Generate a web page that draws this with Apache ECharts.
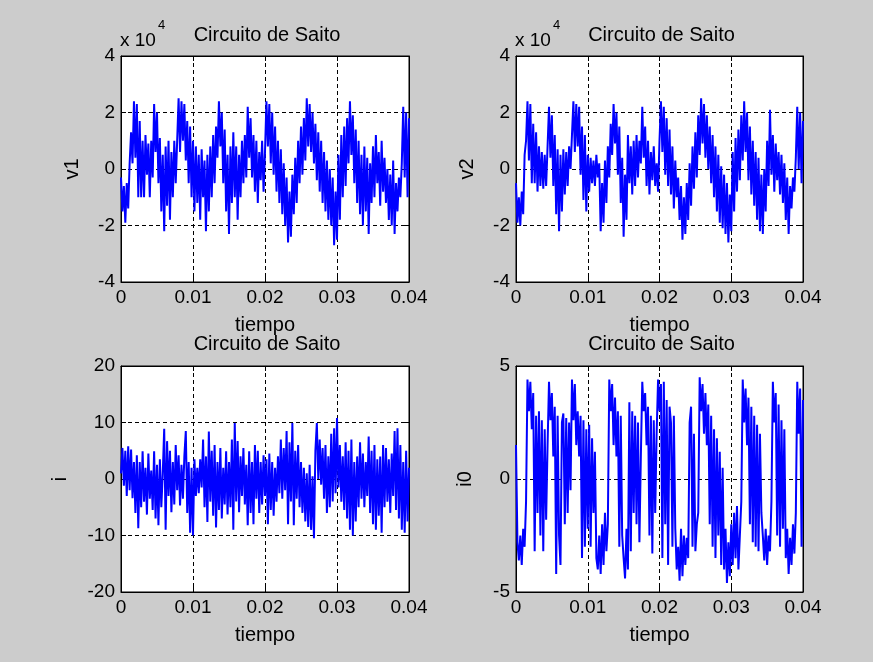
<!DOCTYPE html>
<html>
<head>
<meta charset="utf-8">
<script src="https://cdn.jsdelivr.net/npm/echarts@6/dist/echarts.min.js"></script>
<style>
html,body{margin:0;padding:0;background:#cccccc;}
#c{width:873px;height:662px;}
</style>
</head>
<body>
<div id="c"></div>
<script>
// time step of the samples (s); 201 samples from 0 to 0.04
const dt = 0.0002;
const xTicks = ['0', '0.01', '0.02', '0.03', '0.04'];
const titleText = 'Circuito de Saito';
const yNames = ['v1', 'v2', 'i', 'i0'];

// v1 in units of 1e4 (axis shows "x 10^4")
const v1 = [-0.3,-1.5,-0.6,-1.9,-0.5,-1.4,0.2,1.3,0.2,2.4,0.4,2.3,-1.0,1.7,-1.0,1.0,-1.0,1.2,-0.2,0.9,
-1.0,1.0,-0.3,2.3,0.6,2.0,-0.5,1.1,-1.5,0.5,-2.2,0.8,-1.3,1.0,-1.8,0.6,-1.0,1.0,-0.5,1.0,
2.5,0.6,2.4,1.0,2.3,0.3,1.7,-0.5,1.5,-1.0,1.0,-1.5,0.8,-1.2,0.5,-1.8,0.7,-1.0,0.3,-2.2,
0.5,-1.5,0.8,-1.0,1.2,-0.5,1.5,0.4,2.4,0.8,2.0,-0.5,1.4,-1.5,0.5,-2.3,0.8,-1.2,1.3,-1.0,
0.8,-1.8,0.5,-1.0,1.0,-0.5,1.2,-0.3,2.2,0.4,1.8,-0.3,1.2,-0.8,1.0,-1.2,0.6,-0.4,1.0,-0.8,
0.6,2.4,0.8,2.3,0.2,2.0,-0.2,1.5,-0.8,1.0,-1.2,0.7,-1.6,0.2,-2.0,-0.3,-2.6,-0.8,-2.4,-0.2,
-1.6,0.4,-1.2,1.0,-0.5,1.5,-0.2,1.8,0.3,2.5,0.8,2.3,0.6,2.0,0.2,1.6,-0.4,1.3,-0.8,1.0,
-1.2,0.6,-1.5,0.3,-1.8,0.0,-2.0,-0.3,-2.7,-0.8,-2.5,0.5,-1.8,1.2,-1.0,1.5,-0.6,1.8,0.2,2.4,
0.5,1.9,-0.5,1.4,-1.2,1.0,-1.6,0.5,-2.0,0.8,-1.5,0.4,-2.3,0.2,-1.2,0.8,-1.0,1.2,-0.5,0.6,
-1.3,1.0,-0.8,0.4,-1.2,0.0,-1.8,-0.2,-2.0,0.3,-2.3,-0.5,-1.5,-0.3,-1.0,0.2,2.2,-0.3,2.0,-1.0,
1.8];

// v2 in units of 1e4
const v2 = [-0.5,-1.9,-1.0,-2.0,-0.8,-1.6,0.5,1.0,2.4,0.3,2.3,-0.5,1.6,-0.5,1.3,-0.8,0.8,-0.6,0.6,-0.7,
0.5,-0.6,0.8,2.2,0.4,1.9,-0.6,1.2,-1.6,0.7,-2.2,0.5,-1.5,0.7,-0.9,0.6,-0.6,0.8,0.0,1.2,
2.4,0.6,2.3,0.8,2.2,-0.2,1.5,-1.1,1.2,-1.5,0.5,-0.8,0.4,-0.5,0.3,-0.6,0.5,-0.3,0.2,-2.2,
-0.5,-1.9,0.3,-1.2,0.8,-0.3,1.6,0.5,2.3,0.9,2.0,-0.2,1.5,-1.2,0.4,-2.4,-0.2,-1.8,1.2,-0.5,
0.8,-0.9,1.0,-0.6,1.2,-0.3,1.0,0.2,2.2,0.4,1.5,-0.6,1.0,-0.9,0.6,-0.4,0.8,-0.6,0.2,-0.8,
1.0,2.4,0.6,2.2,-0.2,1.8,-0.6,1.4,-0.9,0.8,-1.4,0.3,-1.0,-0.3,-1.8,-0.6,-2.5,-1.0,-2.3,-0.5,
-1.8,0.2,-1.3,0.8,-0.7,1.3,-0.3,1.9,0.5,2.5,0.9,2.3,0.4,1.9,0.0,1.5,-0.5,1.2,-1.0,0.8,
-1.5,0.5,-1.9,0.1,-2.1,-0.2,-2.3,-0.5,-2.6,-0.9,-2.2,0.6,-1.5,1.1,-0.8,1.4,-0.4,1.9,0.3,2.4,
0.6,2.0,-0.4,1.5,-0.9,1.0,-1.3,0.6,-1.8,0.4,-2.2,-0.2,-2.3,0.0,-1.5,1.0,-0.6,2.1,-0.2,1.2,
-0.8,0.9,-0.4,0.6,-0.9,0.5,-1.2,0.2,-1.8,-0.3,-2.3,-0.6,-1.4,-0.3,-0.8,0.4,2.2,0.0,2.0,-0.5,
1.7];

// i
const iCur = [1.0,5.5,-1.2,5.0,-3.0,5.8,-2.0,5.2,-3.4,3.0,-6.0,4.2,-8.7,3.0,-5.0,4.9,-4.0,2.0,-6.3,4.5,
-3.5,1.5,-5.5,4.9,-7.0,2.5,-8.2,3.5,-5.0,1.0,8.9,-9.0,6.7,-3.0,5.0,-5.9,3.0,-4.5,6.0,-2.0,
4.2,-4.7,2.5,-3.5,4.0,8.5,-6.0,3.0,-9.5,2.0,-10.0,3.5,-3.0,2.0,-2.5,3.5,-1.5,7.0,-5.0,4.0,
-7.6,8.4,-4.0,5.0,-6.5,6.0,-8.6,3.0,-5.5,5.5,-7.0,2.0,-4.5,4.9,-6.3,3.0,-5.0,7.0,-9.0,9.9,
-4.0,6.7,-5.9,4.0,-3.0,5.5,-4.5,2.5,-8.2,4.9,-6.0,3.0,-8.0,6.0,-3.5,5.0,-6.0,3.0,-4.5,4.2,
-3.0,3.5,-8.0,4.5,-5.5,3.0,-6.5,2.0,-4.0,4.0,-2.5,7.0,-3.5,5.5,-2.0,8.5,-8.0,6.5,-4.0,9.9,
-8.2,5.0,-3.5,6.0,-5.0,3.0,-6.0,2.0,-7.5,1.0,-8.5,2.5,-9.0,0.5,-10.5,5.0,9.9,0.0,7.0,-1.0,
5.5,-3.5,6.0,-6.0,4.0,-5.0,8.0,-4.0,9.0,-2.5,10.8,-1.5,6.0,-4.0,4.0,-5.5,6.5,-7.0,5.0,-9.0,
7.0,-10.0,3.0,-7.5,4.0,-5.0,6.5,-3.5,4.5,-5.0,3.0,-3.0,7.5,-6.0,5.0,-8.0,6.0,-9.0,3.5,-6.5,
4.0,-9.5,6.0,-5.0,5.5,-4.0,3.5,-6.0,4.5,-3.0,8.5,-5.5,9.0,-7.0,6.0,-9.0,3.0,-9.5,5.0,-7.5,
2.0];

// i0
const i0 = [1.5,-2.8,-3.6,-2.5,-3.8,-2.2,-3.0,-1.0,4.4,3.0,4.3,2.2,3.8,-3.2,2.8,-1.5,3.0,-2.5,2.6,-3.2,
2.2,-1.8,1.5,4.3,2.6,3.8,1.0,3.2,-4.2,2.8,-2.5,-3.8,2.5,2.9,-2.0,2.7,-1.5,2.5,-0.5,4.4,
2.6,4.2,1.5,3.0,1.0,2.8,-3.5,2.6,-3.0,2.2,-2.2,2.4,-3.0,1.8,-1.5,1.2,-3.5,-4.0,-2.5,-4.2,
-2.0,-3.8,-1.5,-3.2,-2.0,4.4,3.0,4.2,1.5,3.6,1.0,3.0,-3.0,2.8,-2.5,-3.5,-4.4,-2.2,-4.0,3.4,
-3.2,3.0,-1.5,2.8,-2.0,2.5,-2.8,1.0,4.3,3.0,3.8,1.5,3.2,-2.5,2.8,-3.3,2.6,-1.5,2.0,4.4,
3.0,4.2,-3.5,4.3,-2.0,3.5,-3.8,3.2,2.5,-3.0,2.8,-2.2,-4.0,-3.0,-4.5,-2.2,-4.3,-2.5,-3.8,-2.6,
-3.5,2.5,3.2,-3.0,2.0,-3.2,-2.0,-1.5,4.5,3.0,4.2,2.0,3.8,1.5,3.3,-2.0,2.8,-3.0,2.2,-3.5,
1.8,-2.5,1.2,-3.8,0.5,-4.0,-2.2,-4.6,-2.8,-4.3,-2.0,-3.8,-1.5,-3.5,-1.2,-4.0,-2.5,-1.0,4.4,2.5,
4.0,1.5,3.6,-2.0,3.2,-2.8,2.8,-3.0,2.4,-3.2,2.0,-1.5,-2.5,-3.6,-2.2,-3.8,-2.5,-3.2,-1.0,4.3,
2.5,3.8,-2.5,3.3,-3.0,2.6,-2.2,2.2,-3.5,-2.2,-4.2,-2.6,-3.8,-2.0,-3.3,-1.5,4.3,2.0,4.0,-3.0,
3.5];

const panels = [
  {data: v1, yMin: -4, yMax: 4, yInt: 2, left: 121, top: 56, width: 288, nameGap: 39},
  {data: v2, yMin: -4, yMax: 4, yInt: 2, left: 516, top: 56, width: 287, nameGap: 39},
  {data: iCur, yMin: -20, yMax: 20, yInt: 10, left: 121, top: 366, width: 288, nameGap: 51},
  {data: i0, yMin: -5, yMax: 5, yInt: 5, left: 516, top: 366, width: 287, nameGap: 41}
];

const FONT = 'Liberation Sans, Arial, sans-serif';
const grids = [], xAxes = [], yAxes = [], series = [], titles = [];
panels.forEach((p, g) => {
  grids.push({left: p.left, top: p.top, width: p.width, height: 226, show: true,
    backgroundColor: '#ffffff', borderColor: '#000', borderWidth: 1, containLabel: false});
  const axLine = {show: true, onZero: false, lineStyle: {color: '#000', width: 1}};
  const tick = {show: true, inside: true, length: 5, lineStyle: {color: '#000'}};
  xAxes.push({type: 'value', gridIndex: g, min: 0, max: 0.04, interval: 0.01, position: 'bottom',
    axisLine: axLine, axisTick: tick,
    axisLabel: {color: '#000', fontSize: 19, fontFamily: FONT, margin: 6,
      formatter: v => xTicks[Math.round(v / 0.01)]},
    splitLine: {show: true, lineStyle: {color: '#000', type: [4, 3], width: 1}},
    name: 'tiempo', nameLocation: 'middle', nameGap: 33,
    nameTextStyle: {color: '#000', fontSize: 20, fontFamily: FONT}});
  xAxes.push({type: 'value', gridIndex: g, min: 0, max: 0.04, interval: 0.01, position: 'top',
    axisLine: axLine, axisTick: tick, axisLabel: {show: false}, splitLine: {show: false}});
  yAxes.push({type: 'value', gridIndex: g, min: p.yMin, max: p.yMax, interval: p.yInt, position: 'left',
    axisLine: axLine, axisTick: tick,
    axisLabel: {color: '#000', fontSize: 19, fontFamily: FONT, margin: 6},
    splitLine: {show: true, lineStyle: {color: '#000', type: [4, 3], width: 1}},
    name: yNames[g], nameLocation: 'middle', nameGap: p.nameGap,
    nameTextStyle: {color: '#000', fontSize: 20, fontFamily: FONT}});
  yAxes.push({type: 'value', gridIndex: g, min: p.yMin, max: p.yMax, interval: p.yInt, position: 'right',
    axisLine: axLine, axisTick: tick, axisLabel: {show: false}, splitLine: {show: false}});
  series.push({type: 'line', xAxisIndex: 2 * g, yAxisIndex: 2 * g, showSymbol: false, symbol: 'none',
    lineStyle: {color: '#0000ff', width: 2}, animation: false, silent: true,
    data: p.data.map((v, k) => [+(k * dt).toFixed(5), v])});
  titles.push({text: titleText, left: p.left + p.width / 2 - 3, top: p.top - (g < 2 ? 36 : 37),
    textAlign: 'center',
    textStyle: {color: '#000', fontSize: 20, fontWeight: 'normal', fontFamily: FONT}});
});

const chart = echarts.init(document.getElementById('c'), null, {renderer: 'canvas'});
chart.setOption({
  backgroundColor: '#cccccc',
  animation: false,
  title: titles,
  grid: grids, xAxis: xAxes, yAxis: yAxes, series: series,
  graphic: [
    {type: 'text', left: 120, top: 19, style: {text: '{a|x 10}{b|4}', fill: '#000',
      rich: {a: {fontSize: 19, fontFamily: FONT, padding: [12, 0, 0, 0]}, b: {fontSize: 13, fontFamily: FONT, verticalAlign: 'top', padding: [0, 0, 0, 2]}}}},
    {type: 'text', left: 515, top: 19, style: {text: '{a|x 10}{b|4}', fill: '#000',
      rich: {a: {fontSize: 19, fontFamily: FONT, padding: [12, 0, 0, 0]}, b: {fontSize: 13, fontFamily: FONT, verticalAlign: 'top', padding: [0, 0, 0, 2]}}}}
  ]
});
</script>
</body>
</html>
